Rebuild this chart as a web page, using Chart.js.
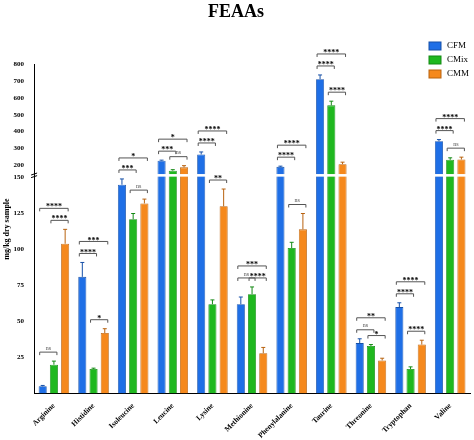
<!DOCTYPE html>
<html><head><meta charset="utf-8">
<script src="https://cdn.jsdelivr.net/npm/chart.js@4"></script>
<style>body{margin:0;background:#fff}#w{width:474px;height:440px}</style>
</head><body><div id="w"><canvas id="c"></canvas></div>
<script>
const categories=["Arginine","Histidine","Isoleucine","Leucine","Lysine","Methionine","Phenylalanine","Taurine","Threonine","Tryptophan","Valine"];
const seriesNames=["CFM","CMix","CMM"];
const cfm=[5,81,145,225,262,62,188,713,35,60,341];
const cmix=[20,17,121,165,62,69,101,556,33,17,230];
const cmm=[104,42,132,185,130,28,114,204,23,34,232];
const cfmErr=[0.6,10,4,3,15,5,4,25,3,3,10];
const cmixErr=[2.5,0.6,4,6,3,5,4,25,1,1.5,12];
const cmmErr=[10,3,3,10,12,4,11,12,1.5,3,14];
const sig12=["ns","****","***","***","****","ns","****","****","ns","****","****"];
const sig23=["****","*","ns","ns","**","****","ns","****","*","****","ns"];
const sig13=["****","***","*","*","****","***","****","****","**","****","****"];
const lowTicks=[0,25,50,75,100,125,150];
const highTicks=[200,300,400,500,600,700,800];
const colors=["#1f6fe6","#1fb81f","#f5891d"];
const borders=["#1650a8","#148a14","#b8620f"];
const BREAK=150,GAP=3,K=0.116;
const tf=v=>v<=BREAK?v:BREAK+GAP+(v-BREAK)*K;
const inv=d=>d<=BREAK?d:BREAK+(d-BREAK-GAP)/K;
const vals=[cfm,cmix,cmm],errs=[cfmErr,cmixErr,cmmErr];
const serif="'Liberation Serif','DejaVu Serif',serif";
const plug={id:'extra',afterDatasetsDraw(ch){
 const c=ch.ctx,y=ch.scales.y,a=ch.chartArea;
 c.save();
 for(let s=0;s<3;s++){const m=ch.getDatasetMeta(s);m.data.forEach((b,i)=>{
  const top=y.getPixelForValue(tf(vals[s][i]+errs[s][i]));c.strokeStyle=borders[s];c.lineWidth=1;
  c.beginPath();c.moveTo(b.x,b.y);c.lineTo(b.x,top);c.moveTo(b.x-2,top);c.lineTo(b.x+2,top);c.stroke();});}
 const yb1=y.getPixelForValue(BREAK+0.6),yb2=y.getPixelForValue(BREAK+GAP-0.6);
 c.fillStyle="#fff";c.fillRect(a.left+1,yb2,a.right-a.left,yb1-yb2);
 c.strokeStyle="#000";c.lineWidth=1;
 c.beginPath();c.moveTo(a.left-3,yb1+1);c.lineTo(a.left+3,yb1-1);c.moveTo(a.left-3,yb2+1);c.lineTo(a.left+3,yb2-1);c.stroke();
 const ms=[0,1,2].map(s=>ch.getDatasetMeta(s).data);
 c.textAlign="center";c.textBaseline="bottom";
 categories.forEach((_,i)=>{
  const tp=s=>y.getPixelForValue(tf(vals[s][i]+errs[s][i]));
  const br=(s1,s2,yy,lab)=>{const x1=ms[s1][i].x-3,x2=ms[s2][i].x+3;c.strokeStyle="#555";c.beginPath();c.moveTo(x1,yy+3);c.lineTo(x1,yy);c.lineTo(x2,yy);c.lineTo(x2,yy+3);c.stroke();c.fillStyle=lab=="ns"?"#555":"#000";c.font=(lab=="ns"?"6px ":"bold 8px ")+serif;c.fillText(lab,(x1+x2)/2,yy+(lab=="ns"?-1:3));};
  const y12=Math.min(tp(0),tp(1))-9,y23=Math.min(tp(1),tp(2))-9,y13=Math.min(y12,y23)-12;
  br(0,1,y12,sig12[i]);br(1,2,y23,sig23[i]);br(0,2,y13,sig13[i]);
 });
 c.font="9px "+serif;c.textAlign="left";c.textBaseline="middle";
 seriesNames.forEach((n,s)=>{const ly=46+s*14;c.fillStyle=colors[s];c.fillRect(429,ly-4,12,8);c.strokeStyle=borders[s];c.strokeRect(429,ly-4,12,8);c.fillStyle="#000";c.fillText(n,447,ly);});
 c.restore();}};
new Chart(document.getElementById('c'),{type:'bar',
 data:{labels:categories,datasets:seriesNames.map((n,s)=>({label:n,data:vals[s].map(tf),backgroundColor:colors[s],borderColor:borders[s],borderWidth:0.8,categoryPercentage:0.85,barPercentage:0.72}))},
 options:{responsive:true,maintainAspectRatio:false,animation:false,
  layout:{padding:{left:2,right:4,top:0,bottom:0}},
  plugins:{legend:{display:false},tooltip:{enabled:false},
   title:{display:true,text:"FEAAs",font:{family:serif,size:18,weight:'bold'},color:'#000',padding:{top:2,bottom:41}}},
  scales:{x:{grid:{display:false},border:{color:'#000'},ticks:{color:'#000',padding:0,font:{family:serif,size:7.5,weight:'bold'},maxRotation:45,minRotation:45,autoSkip:false}},
   y:{min:0,max:tf(800),grid:{display:false},border:{color:'#000'},
    title:{display:true,text:"mg/kg dry sample",font:{family:serif,size:8,weight:'bold'},color:'#000',padding:0},
    afterBuildTicks:ax=>{ax.ticks=lowTicks.concat(highTicks).map(v=>({value:tf(v)}));},
    ticks:{color:'#000',padding:2,font:{family:serif,size:7,weight:'bold'},callback:v=>{const r=Math.round(inv(v));return r===0?'':r;}}}}},
 plugins:[plug]});
</script></body></html>
